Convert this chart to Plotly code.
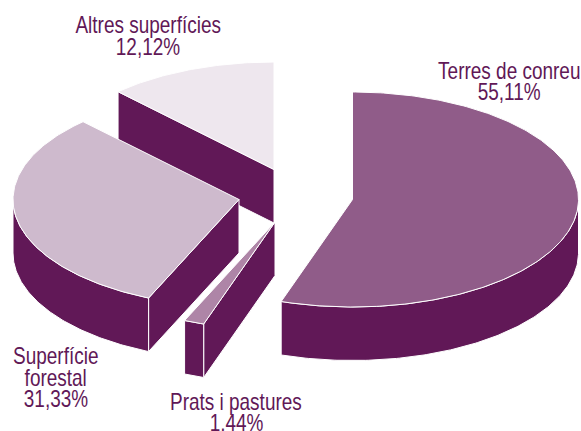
import numpy as np
import plotly.graph_objects as go

# Data
categories = ["Terres de conreu", "Prats i pastures", "Superfície forestal", "Altres superfícies"]
shares = [55.11, 1.44, 31.33, 12.12]
value_labels = ["55,11%", "1,44%", "31,33%", "12,12%"]

# Styling / geometry of the exploded pie (axis units are pixels)
top_colors = ["#905C89", "#AE85A7", "#CEBACD", "#EEE7EE"]
side_color = "#611857"
text_color = "#611857"
apex_x = [352.5, 275, 239, 274]
apex_y = [199.5, 222, 199.5, 169.5]
rx, ry, depth = 226, 107.5, 53.5
draw_order = [3, 2, 1, 0]

label_lines = [["Terres de conreu", "55,11%"], ["Prats i pastures", "1,44%"],
               ["Superfície", "forestal", "31,33%"], ["Altres superfícies", "12,12%"]]
label_x = [509, 236, 55.5, 148]
label_y = [[71, 92], [402, 423], [356, 378, 399], [25, 47]]
FONT_SIZE = 23
CONDENSE = 0.825

W, H = 581, 431
fractions = np.array(shares) / sum(shares)
ends = np.cumsum(fractions) * 2 * np.pi
starts = ends - fractions * 2 * np.pi


def rim(cx, cy, t0, t1, dy=0.0):
    t = np.linspace(t0, t1, max(3, int(abs(t1 - t0) * 80)))
    return cx + rx * np.sin(t), cy - ry * np.cos(t) + dy


def polygon(xs, ys, fill):
    return go.Scatter(x=list(xs) + [xs[0]], y=list(ys) + [ys[0]], mode="lines", fill="toself",
                      fillcolor=fill, line=dict(color="white", width=1), hoverinfo="skip",
                      showlegend=False)


fig = go.Figure()
for i in draw_order:
    cx, cy, t0, t1 = apex_x[i], apex_y[i], starts[i], ends[i]
    # radial wall on the start edge
    if np.sin(t0) < -1e-6:
        ex, ey = cx + rx * np.sin(t0), cy - ry * np.cos(t0)
        fig.add_trace(polygon([cx, ex, ex, cx], [cy, ey, ey + depth, cy + depth], side_color))
    # outer wall on the front half
    a, b = max(t0, np.pi / 2), min(t1, 3 * np.pi / 2)
    if b > a:
        x1, y1 = rim(cx, cy, a, b)
        x2, y2 = rim(cx, cy, b, a, depth)
        fig.add_trace(polygon(np.r_[x1, x2], np.r_[y1, y2], side_color))
    # top face
    x1, y1 = rim(cx, cy, t0, t1)
    fig.add_trace(polygon(np.r_[cx, x1], np.r_[cy, y1], top_colors[i]))

for lines, x, ys in zip(label_lines, label_x, label_y):
    for line, y in zip(lines, ys):
        fig.add_annotation(x=x, y=y, text=line, showarrow=False, xanchor="center", yanchor="middle",
                           font=dict(family="Liberation Sans", size=FONT_SIZE, color=text_color))

fig.update_layout(
    width=W, height=H, margin=dict(l=0, r=0, t=0, b=0),
    paper_bgcolor="white", plot_bgcolor="white", showlegend=False,
    xaxis=dict(range=[0, W], visible=False, fixedrange=True),
    yaxis=dict(range=[H, 0], visible=False, fixedrange=True),
)
post = """
document.body.style.margin='0';
document.documentElement.style.overflow='hidden';
var k = %s;
document.querySelectorAll('.annotation-text').forEach(function(t){
  var x = parseFloat(t.getAttribute('x')) || 0;
  var old = t.getAttribute('transform') || '';
  t.setAttribute('transform', old + ' translate(' + (x*(1-k)) + ',0) scale(' + k + ',1)');
});
""" % CONDENSE
fig.write_html("out.html", config={"displayModeBar": False}, post_script=post)
